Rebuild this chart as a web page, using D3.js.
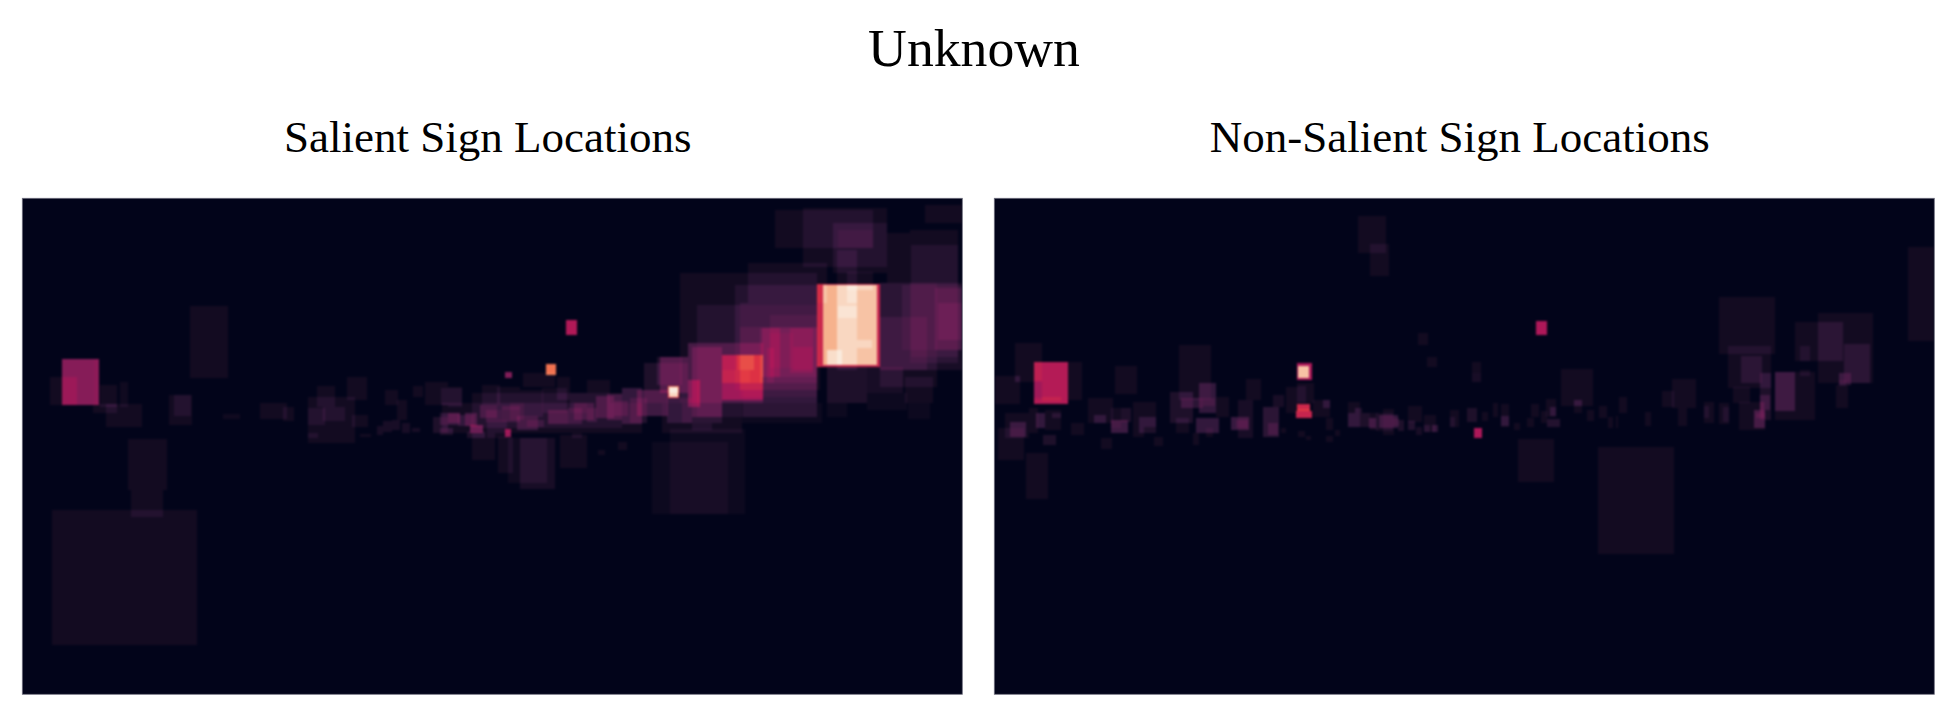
<!DOCTYPE html>
<html>
<head>
<meta charset="utf-8">
<script src="https://cdn.jsdelivr.net/npm/d3@7"></script>
<style>
  html, body { margin: 0; padding: 0; background: #fff; }
  text { font-family: "Liberation Serif", serif; fill: #000; }
</style>
</head>
<body>
<div id="chart"></div>
<script>
const figureTitle = "Unknown";
const panelTitles = ["Salient Sign Locations", "Non-Salient Sign Locations"];

// rocket colormap stops
const rocketStops = [0, .03, .06, 1/12, 3/12, 5/12, 7/12, 9/12, 11/12, 1];
const rocketColors = ["#02041a", "#130b21", "#23122f", "#35193e", "#701f57", "#ad1759", "#e13342", "#f37651", "#f6b48f", "#faebdd"];

// boxes: x0, y0, x1, y1, amount added to the heat
const salientBoxes = [
  // far left
  [40,161,77,207,.31],[40,179,55,207,.03],[28,179,55,207,.03],[72,161,77,207,.02],
  [78,187,95,209,.03],[98,184,106,209,.025],[71,206,95,215,.03],[84,206,120,229,.03],
  [168,108,206,180,.03],[147,197,170,227,.03],[152,197,169,218,.03],[201,216,218,221,.025],
  [238,205,265,221,.03],[261,209,272,223,.03],[286,199,333,245,.03],[295,188,313,209,.03],
  [325,179,345,202,.03],[286,210,303,227,.03],[301,209,323,223,.03],[330,217,346,229,.03],
  [286,235,296,240,.03],[363,192,376,207,.03],[375,202,385,222,.03],[391,188,401,199,.03],
  [403,184,426,207,.03],[419,190,440,207,.03],
  [355,228,361,237,.04],[361,223,370,234,.04],[370,222,378,232,.04],[380,225,388,235,.04],[390,230,398,234,.04],[338,236,349,239,.03],
  // big dim boxes low left
  [106,241,145,292,.03],[109,292,141,319,.03],[30,312,175,447,.03],
  // band through the middle
  [411,219,426,235,.05],[426,215,438,225,.1],[443,215,455,228,.1],[458,207,475,220,.08],[460,187,478,207,.03],
  [448,227,461,235,.2],[445,234,463,240,.05],[418,215,438,227,.06],[418,230,431,237,.05],
  [420,205,620,235,.03],[450,195,600,230,.03],
  [526,212,546,226,.1],[546,210,560,226,.06],[552,205,572,222,.08],[565,210,575,224,.05],[574,198,592,220,.09],
  [585,196,600,222,.09],[592,203,606,218,.07],[600,190,620,226,.08],[608,200,625,225,.06],
  [495,218,516,232,.07],[505,222,522,229,.05],[480,208,498,224,.07],[464,212,480,224,.06],[488,205,502,222,.04],[436,217,452,228,.05],
  [498,192,521,219,.03],[501,175,533,189,.03],[475,189,498,212,.03],[426,189,440,209,.03],
  [535,179,548,202,.03],[548,195,565,215,.03],[565,182,588,205,.03],[465,222,485,240,.03],[520,190,545,215,.03],
  // below the band
  [498,240,533,291,.04],[486,240,525,285,.025],[476,239,491,275,.03],[461,235,473,262,.03],[450,235,461,262,.03],
  [538,237,565,270,.03],[550,235,560,240,.03],[576,252,583,257,.03],[596,244,605,252,.03],
  [648,231,723,316,.02],[630,244,706,316,.02],
  // small marks
  [483,174,490,180,.3],[524,166,534,177,.74],[483,231,489,239,.35],[544,122,555,137,.43],
  // rising plume
  [658,75,795,205,.03],[675,107,795,219,.03],[713,87,798,192,.03],[718,105,795,199,.03],[748,117,795,179,.04],
  [718,129,795,192,.05],[738,130,795,185,.05],[740,130,758,179,.08],[768,130,791,175,.06],[771,149,791,172,.05],
  [748,135,771,170,.03],[745,150,752,185,.05],[666,145,741,205,.1],[670,149,700,219,.1],[666,182,678,209,.17],
  [700,157,741,202,.22],[700,157,741,185,.08],[715,157,732,172,.08],[700,172,728,185,.03],
  [638,159,666,195,.12],[622,165,666,205,.05],[615,192,646,218,.11],[635,159,660,187,.05],[645,200,670,225,.05],
  [660,205,700,225,.04],[670,225,690,232,.03],[640,205,720,235,.03],[720,205,800,225,.02],
  [646,188,657,200,.55],[647,189,656,199,.37],
  // dim cloud, top right
  [753,12,851,50,.03],[781,10,865,69,.03],[811,25,865,75,.03],[816,32,851,50,.03],[815,52,835,172,.03],[825,74,851,92,.03],
  [726,65,805,105,.03],[721,192,795,219,.02],
  [888,32,936,165,.03],[889,47,936,159,.03],[858,85,940,172,.04],[858,119,905,172,.04],[880,87,940,152,.03],
  [913,90,940,152,.06],[916,105,940,142,.05],[858,85,915,189,.03],[903,7,940,25,.03],[865,35,888,85,.03],
  [805,169,845,205,.05],[845,169,881,195,.04],[883,179,911,205,.03],[886,205,908,221,.02],[845,195,885,212,.02],[805,205,825,219,.02],
  // the bright box
  [795,86,858,169,.5],[801,87,855,167,.41],[815,87,855,167,.03],[825,87,835,105,.02],[816,108,835,120,.02],[805,152,820,167,.07],[835,142,850,150,.03]
];

const nonSalientBoxes = [
  // red box and its neighbours
  [40,164,74,183,.44],[48,183,74,206,.44],[40,200,48,206,.44],[40,183,48,200,.38],[48,199,67,203,.05],
  [21,145,48,184,.03],[74,164,88,202,.03],[1,178,26,206,.03],[21,178,26,184,.02],
  [11,215,35,240,.03],[16,224,32,239,.07],[4,230,30,262,.03],[32,255,54,301,.03],
  [35,210,44,235,.03],[42,215,51,230,.08],[51,212,67,232,.03],[58,215,67,220,.04],[49,237,62,247,.05],[77,225,90,237,.03],
  [94,200,119,225,.03],[121,168,143,196,.03],[107,240,118,251,.03],[100,217,112,225,.05],[117,222,134,235,.1],
  [127,210,137,224,.05],[139,204,162,229,.03],[145,219,162,235,.05],[139,229,150,239,.03],[160,239,169,248,.03],[117,210,127,230,.03],
  // cluster near 200
  [185,147,217,202,.03],[176,194,199,225,.05],[187,200,209,210,.07],[205,185,222,215,.08],[209,200,221,208,.05],
  [222,199,235,219,.03],[182,220,195,235,.03],[202,220,225,235,.08],[199,235,205,247,.03],[212,230,219,239,.03],
  [252,181,267,202,.03],[244,202,259,240,.04],[237,219,255,232,.09],[242,222,254,230,.05],
  [279,197,290,209,.04],[269,209,285,239,.07],[274,225,284,237,.06],[292,189,304,215,.03],[287,230,292,235,.03],
  [364,18,392,55,.03],[376,46,395,78,.03],
  // bright box and the red one under it
  [303,165,318,182,.42],[304,168,315,180,.52],[303,206,316,213,.52],[302,213,318,220,.5],[304,211,316,213,.08],
  [303,185,320,205,.03],[304,188,312,205,.03],[319,202,336,219,.03],[329,202,336,210,.05],[332,220,339,232,.03],
  [304,233,311,239,.03],[312,238,317,242,.03],[332,238,339,244,.03],[341,232,346,238,.03],
  // thin strip
  [354,204,366,229,.03],[354,215,376,229,.05],[361,210,368,215,.05],[375,220,382,230,.09],[376,215,384,232,.03],
  [382,215,399,233,.03],[389,211,400,237,.03],[385,217,404,230,.08],[399,220,405,228,.05],[404,222,410,233,.05],
  [414,208,428,224,.03],[414,223,421,232,.06],[422,229,428,237,.04],[430,217,442,234,.03],[438,227,444,234,.07],[430,227,436,234,.04],
  [424,135,434,147,.03],[433,159,443,169,.03],[478,164,487,184,.03],[478,175,487,184,.01],
  [456,212,465,229,.03],[456,219,461,229,.03],[473,210,483,224,.05],[488,214,494,223,.03],[499,205,504,219,.03],
  [507,206,515,229,.03],[507,218,515,228,.05],[520,225,526,232,.03],[533,220,540,229,.03],[537,206,545,219,.03],
  [547,213,553,225,.03],[552,201,562,219,.03],[556,209,562,218,.05],[553,221,566,229,.06],
  [567,171,599,208,.03],[580,202,588,215,.03],[580,202,588,208,.03],[593,212,600,223,.03],[605,208,613,220,.03],
  [614,219,619,230,.03],[622,218,624,230,.03],[625,199,633,215,.03],[651,214,657,228,.03],
  // small red marks
  [542,123,553,137,.42],[480,230,488,240,.42],
  // big dim boxes
  [524,241,560,284,.03],[604,249,680,356,.03],[914,49,940,143,.03],
  // right cluster
  [668,193,680,209,.03],[678,181,702,210,.03],[684,210,693,228,.03],[710,204,720,225,.03],[710,208,715,220,.03],
  [725,205,735,226,.03],[729,209,735,224,.03],[725,99,781,156,.03],[734,148,777,190,.03],[747,158,768,185,.04],
  [739,189,756,205,.03],[745,204,771,232,.03],[766,175,777,222,.05],[766,197,776,212,.06],[760,212,771,230,.1],
  [762,215,771,220,.06],[766,204,770,215,.05],[781,174,801,213,.08],[781,174,821,222,.03],
  [801,124,849,163,.03],[824,115,879,185,.03],[824,124,849,163,.01],[850,146,876,185,.04],[806,148,816,163,.03],[806,172,816,178,.03],
  [845,175,857,187,.07],[845,182,852,188,.03],[842,187,854,210,.03]
];

const panelW = 940;
const panelH = 496;
const panelLefts = [22.3, 994.3];
const panelTop = 198.3;

const color = d3.scaleLinear()
    .domain(rocketStops)
    .range(rocketColors)
    .clamp(true);

const x = d3.scaleLinear().domain([0, 940]).range([0, panelW]);
const y = d3.scaleLinear().domain([0, 496]).range([0, panelH]);

const svg = d3.select("#chart")
    .append("svg")
    .attr("width", 1955)
    .attr("height", 713)
    .style("display", "block");

const defs = svg.append("defs");

// sRGB here, the default linearRGB greys out the dark colours
defs.append("filter")
    .attr("id", "soften")
    .attr("color-interpolation-filters", "sRGB")
    .attr("x", "-2%").attr("y", "-2%")
    .attr("width", "104%").attr("height", "104%")
    .append("feGaussianBlur")
    .attr("stdDeviation", 1.1);

defs.append("clipPath")
    .attr("id", "panel-clip")
    .append("rect")
    .attr("width", panelW)
    .attr("height", panelH);

// add the boxes up on the grid their edges make, then merge equal runs in each row
function heatCells(boxes) {
    const xs = Array.from(new Set([0, 940].concat(boxes.flatMap(b => [b[0], b[2]])))).sort(d3.ascending);
    const ys = Array.from(new Set([0, 496].concat(boxes.flatMap(b => [b[1], b[3]])))).sort(d3.ascending);
    const cells = [];

    for (let j = 0; j < ys.length - 1; j++) {
        const rowBoxes = boxes.filter(b => b[1] <= ys[j] && b[3] >= ys[j + 1]);
        let run = null;
        for (let i = 0; i < xs.length - 1; i++) {
            const v = d3.sum(rowBoxes, b => (b[0] <= xs[i] && b[2] >= xs[i + 1]) ? b[4] : 0);
            if (run && Math.abs(run.v - v) < 1e-9) {
                run.x1 = xs[i + 1];
            } else {
                if (run && run.v > 0) cells.push(run);
                run = { x0: xs[i], x1: xs[i + 1], y0: ys[j], y1: ys[j + 1], v: v };
            }
        }
        if (run && run.v > 0) cells.push(run);
    }
    return cells;
}

[salientBoxes, nonSalientBoxes].forEach((boxes, k) => {
    const g = svg.append("g")
        .attr("transform", `translate(${panelLefts[k]},${panelTop})`);

    const inner = g.append("g")
        .attr("clip-path", "url(#panel-clip)")
        .append("g")
        .attr("filter", "url(#soften)");

    inner.append("rect")
        .attr("x", -10)
        .attr("y", -10)
        .attr("width", panelW + 20)
        .attr("height", panelH + 20)
        .attr("fill", color(0));

    inner.selectAll(".cell")
        .data(heatCells(boxes))
        .join("rect")
        .attr("class", "cell")
        .attr("x", d => x(d.x0))
        .attr("y", d => y(d.y0))
        .attr("width", d => x(d.x1) - x(d.x0))
        .attr("height", d => y(d.y1) - y(d.y0))
        .attr("fill", d => color(d.v))
        .attr("shape-rendering", "crispEdges");

    g.append("rect")
        .attr("width", panelW)
        .attr("height", panelH)
        .attr("fill", "none")
        .attr("stroke", "#70707f")
        .attr("stroke-width", 0.8);

    svg.append("text")
        .attr("x", panelLefts[k] + panelW / 2 - 4.5)
        .attr("y", 152)
        .attr("text-anchor", "middle")
        .style("font-size", "45px")
        .text(panelTitles[k]);
});

svg.append("text")
    .attr("x", 974)
    .attr("y", 66)
    .attr("text-anchor", "middle")
    .style("font-size", "53.7px")
    .text(figureTitle);
</script>
</body>
</html>
